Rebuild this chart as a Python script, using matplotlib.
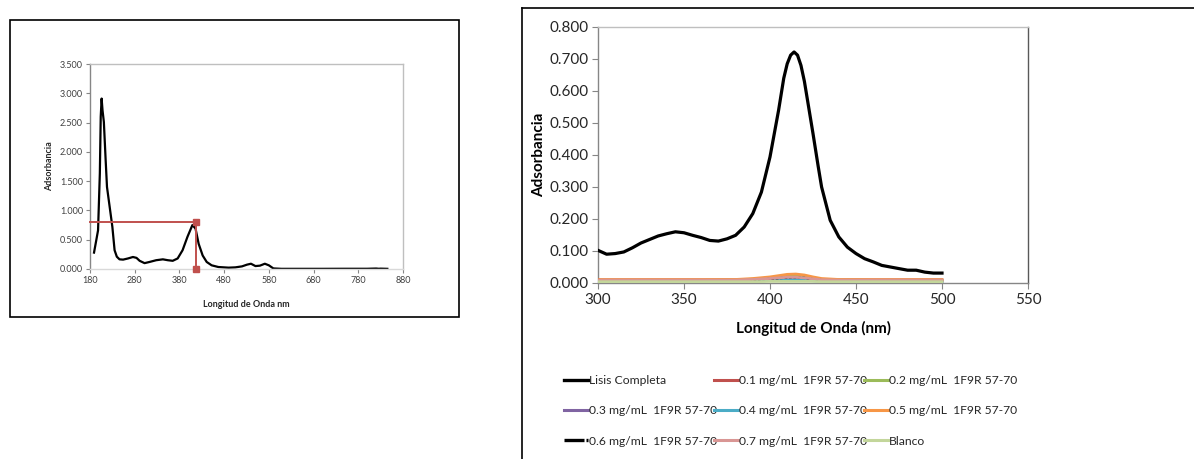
import matplotlib
matplotlib.use("Agg")
import matplotlib.pyplot as plt
from matplotlib.patches import Rectangle
from matplotlib.lines import Line2D
import numpy as np

plt.rcParams['font.family'] = ['Lato', 'DejaVu Sans']

# ---------------- Left chart data (full spectrum) ----------------
left_wl = [189, 194, 198, 202, 204, 206, 208, 211, 215, 218, 224, 230, 235, 240,
           246, 254, 265, 276, 284, 291, 302, 313, 328, 343, 354, 365, 376, 387,
           398, 409, 416, 423, 432, 441, 452, 467, 490, 505, 520, 531, 540, 550,
           560, 571, 580, 590, 608, 650, 700, 750, 800, 820, 826, 830, 845]
left_abs = [0.28, 0.49, 0.66, 1.63, 2.60, 2.91, 2.71, 2.51, 1.86, 1.40, 1.06, 0.72, 0.32, 0.21,
            0.165, 0.16, 0.18, 0.205, 0.19, 0.14, 0.10, 0.12, 0.15, 0.165, 0.15, 0.14, 0.18, 0.32,
            0.55, 0.75, 0.69, 0.43, 0.23, 0.12, 0.063, 0.034, 0.023, 0.028, 0.045, 0.074, 0.09, 0.05,
            0.057, 0.09, 0.063, 0.01, 0.003, 0.003, 0.003, 0.004, 0.004, 0.008, 0.004, 0.006, 0.003]
marker_wl = [180, 416, 416]
marker_abs = [0.80, 0.80, 0.0]

# ---------------- Right chart data (300-500 nm) ----------------
lisis_wl = [300, 305, 310, 315, 320, 325, 330, 335, 340, 345, 350, 355, 360, 365, 370,
            375, 380, 385, 390, 395, 400, 405, 408, 410, 412, 414, 416, 418, 420, 422,
            425, 428, 430, 435, 440, 445, 450, 455, 460, 465, 470, 475, 480, 485, 490, 495, 500]
lisis_abs = [0.102, 0.090, 0.092, 0.097, 0.110, 0.125, 0.136, 0.147, 0.154, 0.160, 0.157, 0.149,
             0.142, 0.133, 0.131, 0.138, 0.149, 0.175, 0.217, 0.284, 0.394, 0.540, 0.640, 0.685,
             0.712, 0.722, 0.712, 0.680, 0.630, 0.565, 0.467, 0.365, 0.300, 0.196, 0.144, 0.112,
             0.092, 0.076, 0.066, 0.055, 0.050, 0.045, 0.040, 0.040, 0.034, 0.031, 0.031]

low_wl = [300, 320, 340, 360, 380, 390, 400, 405, 410, 415, 420, 425, 430, 440, 460, 480, 500]
c01 = [0.010, 0.010, 0.010, 0.010, 0.010, 0.011, 0.012, 0.013, 0.015, 0.015, 0.014, 0.012, 0.011, 0.010, 0.010, 0.010, 0.010]
c02 = [0.008, 0.008, 0.008, 0.008, 0.009, 0.012, 0.016, 0.018, 0.021, 0.022, 0.019, 0.015, 0.011, 0.009, 0.008, 0.008, 0.008]
c03 = [0.005, 0.005, 0.005, 0.005, 0.006, 0.008, 0.011, 0.013, 0.015, 0.015, 0.013, 0.010, 0.007, 0.005, 0.005, 0.005, 0.005]
c04 = [0.003, 0.003, 0.003, 0.003, 0.004, 0.005, 0.008, 0.009, 0.010, 0.010, 0.009, 0.007, 0.005, 0.003, 0.002, 0.002, 0.002]
c05 = [0.010, 0.010, 0.010, 0.010, 0.011, 0.014, 0.019, 0.023, 0.027, 0.028, 0.025, 0.019, 0.014, 0.011, 0.010, 0.010, 0.010]
c06 = [0.006, 0.006, 0.006, 0.006, 0.007, 0.009, 0.013, 0.015, 0.017, 0.018, 0.016, 0.012, 0.009, 0.007, 0.006, 0.006, 0.006]
c07 = [0.008, 0.008, 0.008, 0.008, 0.009, 0.011, 0.014, 0.016, 0.018, 0.018, 0.016, 0.013, 0.010, 0.009, 0.008, 0.008, 0.008]
blanco = [0.004, 0.004, 0.004, 0.004, 0.004, 0.004, 0.005, 0.005, 0.005, 0.005, 0.005, 0.005, 0.004, 0.004, 0.004, 0.004, 0.004]

series_labels = ['Lisis Completa', '0.1 mg/mL  1F9R 57-70', '0.2 mg/mL  1F9R 57-70',
                 '0.3 mg/mL  1F9R 57-70', '0.4 mg/mL  1F9R 57-70', '0.5 mg/mL  1F9R 57-70',
                 '0.6 mg/mL  1F9R 57-70', '0.7 mg/mL  1F9R 57-70', 'Blanco']
series_colors = ['#000000', '#c0504d', '#9bbb59', '#8064a2', '#4bacc6', '#f79646',
                 '#000000', '#d99694', '#c3d69b']

W, H = 1194, 459
fig = plt.figure(figsize=(W / 100, H / 100), dpi=100)

def fx(px):
    return px / W

def fy(py):
    return 1 - py / H

# panel boxes
fig.patches.append(Rectangle((fx(10), fy(317)), fx(449), 297 / H, transform=fig.transFigure,
                             fill=False, edgecolor='black', linewidth=1.2))
fig.add_artist(Line2D([fx(522), fx(522)], [fy(8), 0], transform=fig.transFigure,
                      color='black', linewidth=1.2))
fig.add_artist(Line2D([fx(522), 1.0], [fy(8), fy(8)], transform=fig.transFigure,
                      color='black', linewidth=1.2))

axis_grey = '#868686'

# ---------------- Left axes ----------------
axL = fig.add_axes([fx(90), fy(269), fx(403 - 90), (269 - 64) / H])
axL.plot(left_wl, left_abs, color='black', linewidth=1.6, solid_joinstyle='round')
axL.plot(marker_wl, marker_abs, color='#c0504d', linewidth=1.4, marker='s',
         markersize=5, markevery=[1, 2], clip_on=False, zorder=3)
axL.set_xlim(180, 880)
axL.set_ylim(0, 3.5)
axL.set_xticks(np.arange(180, 881, 100))
axL.set_yticks(np.arange(0, 3.51, 0.5))
axL.set_yticklabels([f'{v:.3f}' for v in np.arange(0, 3.51, 0.5)])
axL.tick_params(labelsize=6.5, length=3, width=0.8, color=axis_grey, pad=2, labelcolor='#404040')
for s in axL.spines.values():
    s.set_color('#bfbfbf')
    s.set_linewidth(1.0)
axL.spines['left'].set_color(axis_grey)
axL.spines['bottom'].set_color('#d9d9d9')
axL.set_xlabel('Longitud de Onda nm', fontsize=6.5, fontweight='bold', labelpad=11, color='#262626')
axL.set_ylabel('Adsorbancia', fontsize=6.5, fontweight='bold', labelpad=4, color='#262626')

# ---------------- Right axes ----------------
axR = fig.add_axes([fx(598), fy(283), fx(1028 - 598), (283 - 27) / H])
low_series = [c01, c02, c03, c04, c05, c06, c07, blanco]
axR.plot(lisis_wl, lisis_abs, color=series_colors[0], linewidth=2.3, label=series_labels[0],
         zorder=5, solid_joinstyle='round')
for i, vals in enumerate(low_series, start=1):
    ls = (0, (1.2, 0.8)) if i == 6 else '-'
    lw = 1.6 if i == 6 else 2.0
    axR.plot(low_wl, vals, color=series_colors[i], linewidth=lw, linestyle=ls,
             label=series_labels[i], zorder=3)
axR.set_xlim(300, 550)
axR.set_ylim(0, 0.8)
axR.set_xticks(np.arange(300, 551, 50))
axR.set_yticks(np.arange(0, 0.81, 0.1))
axR.set_yticklabels([f'{v:.3f}' for v in np.arange(0, 0.81, 0.1)])
axR.tick_params(labelsize=11, length=4, width=0.8, color=axis_grey, pad=3, labelcolor='#262626')
for s in axR.spines.values():
    s.set_color('#bfbfbf')
    s.set_linewidth(1.0)
axR.spines['left'].set_color(axis_grey)
axR.spines['bottom'].set_color(axis_grey)
axR.spines['right'].set_color('#595959')
axR.set_xlabel('Longitud de Onda (nm)', fontsize=11, fontweight='bold', labelpad=10, color='black')
axR.set_ylabel('Adsorbancia', fontsize=11, fontweight='bold', labelpad=2, color='black')

# legend handles (row-major in reference -> column-major for matplotlib)
leg_handles = []
for i in range(9):
    lw = 2.4 if series_colors[i] == '#000000' else 2.2
    ls = (0, (6, 0.6)) if i == 6 else '-'
    leg_handles.append(Line2D([0], [0], color=series_colors[i], linewidth=lw, linestyle=ls))
order = [0, 3, 6, 1, 4, 7, 2, 5, 8]
leg = fig.legend([leg_handles[k] for k in order], [series_labels[k] for k in order],
                 ncol=3, loc='upper left', bbox_to_anchor=(fx(564), fy(375)),
                 frameon=False, fontsize=8.7, handlelength=2.0, handletextpad=0.1,
                 columnspacing=-0.3, labelspacing=1.6, borderaxespad=0, borderpad=0)
for t in leg.get_texts():
    t.set_color('#262626')

fig.savefig('out.png', dpi=100)
